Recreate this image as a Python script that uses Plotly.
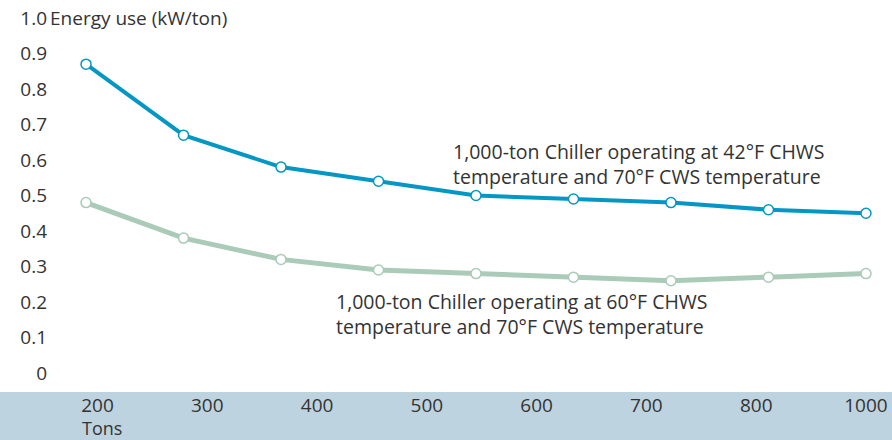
import plotly.graph_objects as go

tons = [200, 300, 400, 500, 600, 700, 800, 900, 1000]
chws42 = [0.87, 0.67, 0.58, 0.54, 0.50, 0.49, 0.48, 0.46, 0.45]
chws60 = [0.48, 0.38, 0.32, 0.29, 0.28, 0.27, 0.26, 0.27, 0.28]
tick_labels = ["200", "300", "400", "500", "600", "700", "800", "1000"]
y_ticks = [0, 0.1, 0.2, 0.3, 0.4, 0.5, 0.6, 0.7, 0.8, 0.9, 1.0]

blue = "#0497c4"
green = "#a9cbb8"
text_col = "#333333"
font = "Open Sans, Noto Sans, sans-serif"

fig = go.Figure()
fig.add_trace(go.Scatter(
    x=tons, y=chws42, mode="lines+markers",
    line=dict(color=blue, width=4),
    marker=dict(size=10, color="white", line=dict(color=blue, width=1.5)),
))
fig.add_trace(go.Scatter(
    x=tons, y=chws60, mode="lines+markers",
    line=dict(color=green, width=5),
    marker=dict(size=10, color="white", line=dict(color=green, width=1.5)),
))
# invisible trace carrying the category tick labels
fig.add_trace(go.Scatter(
    x=list(range(len(tick_labels))), y=[None] * len(tick_labels),
    xaxis="x2", mode="markers", hoverinfo="skip",
))

# light blue band behind the x tick labels
fig.add_shape(type="rect", xref="paper", yref="paper",
              x0=-0.06, x1=1.0, y0=0, y1=-0.13,
              fillcolor="#bed3e0", line_width=0, layer="below")

fig.add_annotation(x=0.0, y=1.0, xref="paper", yref="y", xanchor="left",
                   text="Energy use (kW/ton)", showarrow=False,
                   font=dict(size=19, color=text_col))
fig.add_annotation(x=0.038, y=-0.093, xref="paper", yref="paper",
                   xanchor="left", yanchor="middle", text="Tons",
                   showarrow=False, font=dict(size=18, color=text_col))
fig.add_annotation(x=574, y=0.59, xref="x", yref="y", xanchor="left",
                   align="left", showarrow=False,
                   text="1,000-ton Chiller operating at 42°F CHWS<br>temperature and 70°F CWS temperature",
                   font=dict(size=19.5, color=text_col))
fig.add_annotation(x=454, y=0.165, xref="x", yref="y", xanchor="left",
                   align="left", showarrow=False,
                   text="1,000-ton Chiller operating at 60°F CHWS<br>temperature and 70°F CWS temperature",
                   font=dict(size=19.5, color=text_col))

fig.update_layout(
    width=892, height=440,
    margin=dict(l=48, r=0, t=0, b=48),
    showlegend=False,
    plot_bgcolor="white",
    paper_bgcolor="white",
    font=dict(family=font, size=19, color=text_col),
    xaxis=dict(range=[161.0, 1026.7], showticklabels=False, showgrid=False,
               zeroline=False, showline=False),
    xaxis2=dict(overlaying="x", side="bottom", range=[-0.451, 7.237],
                tickvals=list(range(len(tick_labels))), ticktext=tick_labels,
                showgrid=False, zeroline=False, showline=False, ticks=""),
    yaxis=dict(range=[-0.0535, 1.0507], tickvals=y_ticks,
               ticktext=["0" if v == 0 else f"{v:.1f}" for v in y_ticks],
               showgrid=False, zeroline=False, showline=False, ticks=""),
)

fig.write_html("out.html", config={"displayModeBar": False},
               post_script="document.body.style.margin='0';")
